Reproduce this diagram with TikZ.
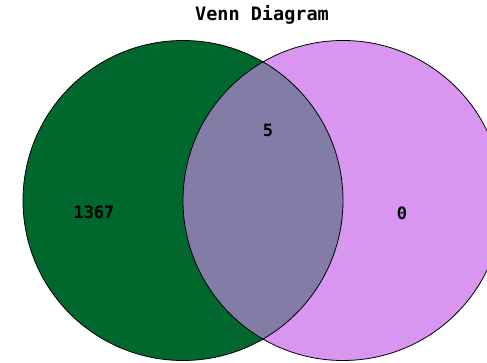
\documentclass[tikz,border=0pt]{standalone}
\usepackage{fontspec}
\setmonofont{DejaVu Sans Mono}
\definecolor{vgreen}{RGB}{0,104,45}
\definecolor{vviolet}{RGB}{216,150,240}
\definecolor{vmix}{RGB}{130,124,166}
\begin{document}
\begin{tikzpicture}[x=1pt,y=-1pt,
  lbl/.style={font=\ttfamily\bfseries\fontsize{17}{17}\selectfont, inner sep=0pt, anchor=center},
  ring/.style={draw=black, line width=0.8pt}]
\useasboundingbox (0,0) rectangle (487,363);
\clip (0,0) rectangle (487,363);
\fill[white] (0,0) rectangle (487,363);
\coordinate (cl) at (183,200.5);
\coordinate (cr) at (343,200.5);
\fill[vgreen] (cl) circle[radius=160];
\fill[vviolet] (cr) circle[radius=160];
\begin{scope}
  \clip (cl) circle[radius=160];
  \fill[vmix] (cr) circle[radius=160];
\end{scope}
\draw[ring] (cl) circle[radius=160];
\draw[ring] (cr) circle[radius=160];
\node[lbl, font=\ttfamily\bfseries\fontsize{18.5}{18.5}\selectfont] (title) at (262,15) {Venn Diagram};
\node[lbl] (a) at (94,212) {1367};
\node[lbl] (ab) at (268,130.5) {5};
\node[lbl] (b) at (402,213) {0};
\end{tikzpicture}
\end{document}
